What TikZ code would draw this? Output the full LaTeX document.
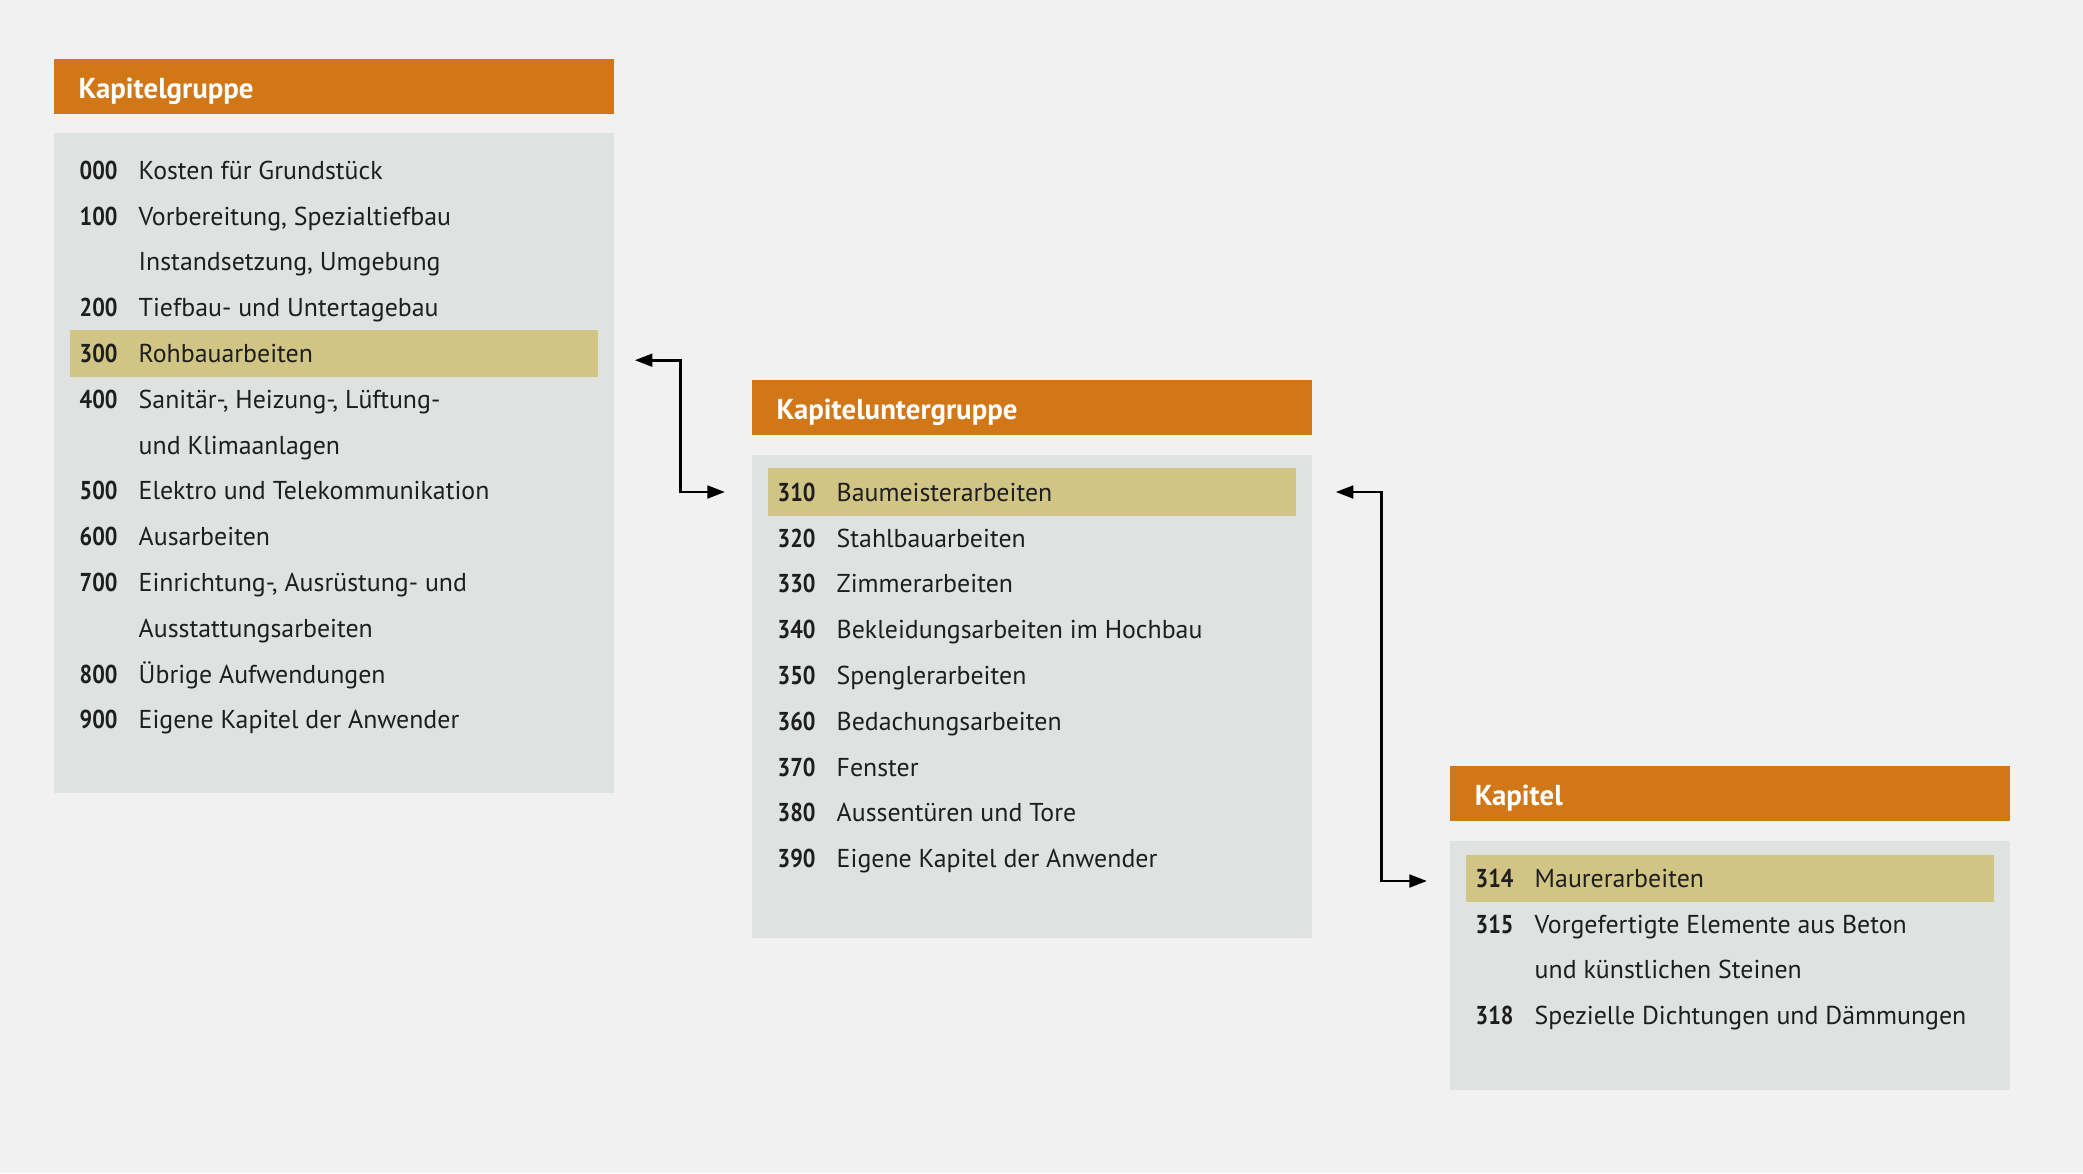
\documentclass[tikz,border=0pt]{standalone}
\usepackage{fontspec}
\setmainfont{PT Sans}
\newfontfamily\numfont[FakeStretch=0.86]{PT Sans}
\usetikzlibrary{arrows.meta,positioning}
\definecolor{bgcol}{RGB}{240,241,240}
\definecolor{boxgray}{RGB}{222,227,225}
\definecolor{headorange}{RGB}{209,119,24}
\definecolor{hlyellow}{RGB}{209,197,134}
\definecolor{txtcol}{RGB}{30,30,30}
\def\rowsep{45.8}

\begin{document}
\begin{tikzpicture}[x=0.01cm,y=-0.01cm]
    \tikzstyle{header}=[fill=headorange,anchor=north west,text=white,font=\fontsize{8.2}{9}\selectfont\bfseries,
        text width=5.1cm,inner xsep=0.25cm,inner ysep=0pt,minimum height=0.55cm,align=left,
        text height=0.7em,text depth=0pt]
    \tikzstyle{panel}=[fill=boxgray,anchor=north west,minimum width=5.6cm,inner sep=0pt]
    \tikzstyle{highlight}=[fill=hlyellow,anchor=west,minimum width=5.28cm,minimum height=0.47cm,inner sep=0pt]
    \tikzstyle{entry}=[anchor=west,inner sep=0pt,text height=0.7em,text depth=0pt,text=txtcol,
        font=\fontsize{7.35}{8}\selectfont]
    \tikzstyle{number}=[entry,font=\fontsize{7.35}{8}\selectfont\numfont\bfseries]
    \tikzstyle{link}=[<->,>={Triangle[length=5pt,width=3.6pt]},line width=0.8pt,black]

    % Background
    \fill[bgcol] (0,0) rectangle (2083,1173);

    % Draw the three columns
    \node[header] (G) at (53,58) {Kapitelgruppe};
    \node[panel,minimum height=6.6cm] (G-box) at (53,132) {};
    \node[header] (U) at (751,379) {Kapiteluntergruppe};
    \node[panel,minimum height=4.83cm] (U-box) at (751,454) {};
    \node[header] (K) at (1449,765) {Kapitel};
    \node[panel,minimum height=2.49cm] (K-box) at (1449,840) {};

    % Highlighted rows
    \node[highlight] (G-hl) at (69,{170+4*\rowsep}) {};
    \node[highlight] (U-hl) at (767,492) {};
    \node[highlight] (K-hl) at (1465,878) {};

    % Entries of the Kapitelgruppe
    \foreach \i/\num/\txt in {0/000/{Kosten für Grundstück},1/100/{Vorbereitung, Spezialtiefbau},
        2//{Instandsetzung, Umgebung},3/200/{Tiefbau- und Untertagebau},4/300/{Rohbauarbeiten},
        5/400/{Sanitär-, Heizung-, Lüftung-},6//{und Klimaanlagen},7/500/{Elektro und Telekommunikation},
        8/600/{Ausarbeiten},9/700/{Einrichtung-, Ausrüstung- und},10//{Ausstattungsarbeiten},
        11/800/{Übrige Aufwendungen},12/900/{Eigene Kapitel der Anwender}}
    {
        \node[number] (G-n-\i) at (79,{167+\i*\rowsep}) {\num};
        \node[entry] (G-t-\i) at (138,{167+\i*\rowsep}) {\txt};
    }

    % Entries of the Kapiteluntergruppe
    \foreach \i/\num/\txt in {0/310/Baumeisterarbeiten,1/320/Stahlbauarbeiten,2/330/Zimmerarbeiten,
        3/340/Bekleidungsarbeiten im Hochbau,4/350/Spenglerarbeiten,5/360/Bedachungsarbeiten,
        6/370/Fenster,7/380/Aussentüren und Tore,8/390/Eigene Kapitel der Anwender}
    {
        \node[number] (U-n-\i) at (777,{489+\i*\rowsep}) {\num};
        \node[entry] (U-t-\i) at (836,{489+\i*\rowsep}) {\txt};
    }

    % Entries of the Kapitel
    \foreach \i/\num/\txt in {0/314/Maurerarbeiten,1/315/Vorgefertigte Elemente aus Beton,
        2//und künstlichen Steinen,3/318/Spezielle Dichtungen und Dämmungen}
    {
        \node[number] (K-n-\i) at (1475,{875+\i*\rowsep}) {\num};
        \node[entry] (K-t-\i) at (1534,{875+\i*\rowsep}) {\txt};
    }

    % Connect the highlighted rows
    \draw[link] ([xshift=0.36cm,yshift=-0.07cm]G-hl.east) -- ++(0.46cm,0) |- ([xshift=-0.42cm]U-hl.west);
    \draw[link] ([xshift=0.39cm]U-hl.east) -- ++(0.46cm,0) |- ([xshift=-0.38cm,yshift=-0.03cm]K-hl.west);
\end{tikzpicture}
\end{document}
